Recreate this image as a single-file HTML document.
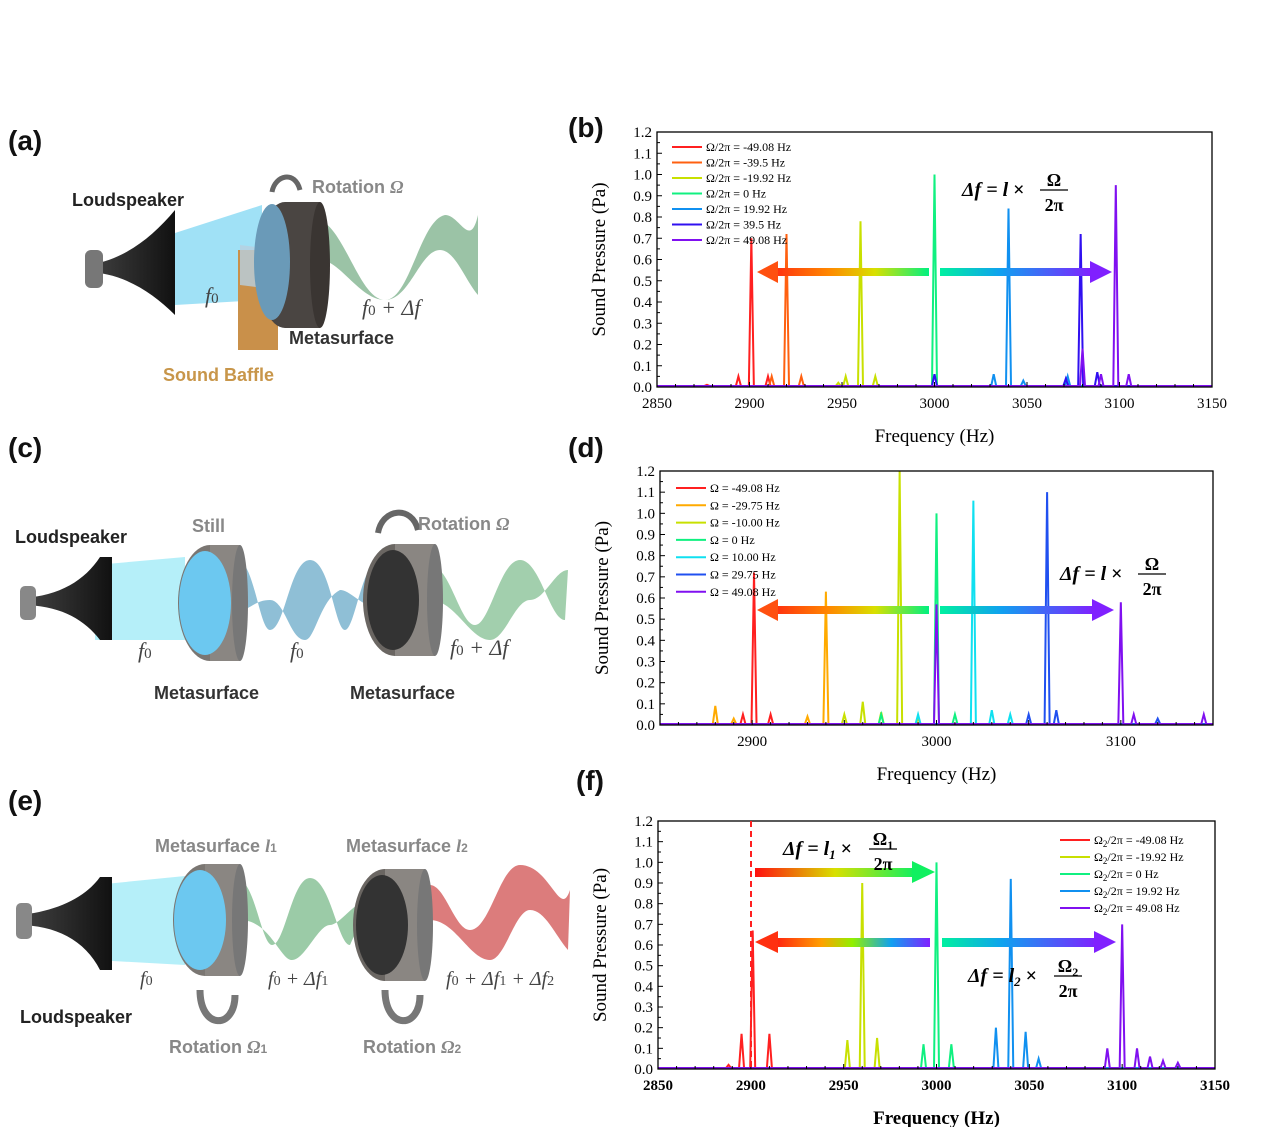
<!DOCTYPE html>
<html><head><meta charset="utf-8">
<style>
body{margin:0;background:#fff;}
svg{display:block;font-family:"Liberation Serif",serif;}
.lab{font-family:"Liberation Sans",sans-serif;font-weight:bold;}
</style></head>
<body>
<svg id="s" width="1270" height="1127" viewBox="0 0 1270 1127" xmlns="http://www.w3.org/2000/svg">
<defs>
<linearGradient id="gl" x1="0" x2="1"><stop offset="0" stop-color="#ff3010"/><stop offset="0.35" stop-color="#ff8800"/><stop offset="0.65" stop-color="#d8e000"/><stop offset="1" stop-color="#00f080"/></linearGradient>
<linearGradient id="gr" x1="0" x2="1"><stop offset="0" stop-color="#00f0a0"/><stop offset="0.4" stop-color="#10a0f0"/><stop offset="1" stop-color="#8020ff"/></linearGradient>
<linearGradient id="gf" x1="0" x2="1"><stop offset="0" stop-color="#ff1010"/><stop offset="0.5" stop-color="#d8e000"/><stop offset="1" stop-color="#10f060"/></linearGradient>
<linearGradient id="gf2" x1="0" x2="1"><stop offset="0" stop-color="#ff2010"/><stop offset="0.3" stop-color="#ffa000"/><stop offset="0.5" stop-color="#90f000"/><stop offset="0.75" stop-color="#10a0f0"/><stop offset="1" stop-color="#8020ff"/></linearGradient>
<linearGradient id="horn" x1="0" x2="1"><stop offset="0" stop-color="#444"/><stop offset="1" stop-color="#111"/></linearGradient>
</defs>
<g id="g"></g>
<g class="lab" font-size="28" fill="#111">
<text x="8" y="150">(a)</text><text x="568" y="137">(b)</text>
<text x="8" y="457">(c)</text><text x="568" y="457">(d)</text>
<text x="8" y="810">(e)</text><text x="576" y="790">(f)</text>
</g>
<g>
<polygon points="175,233 262,205 262,300 175,305" fill="#8fdcf5" opacity="0.85"/>
<path d="M320,220 C345,230 360,300 385,300 C410,300 420,220 445,215 C460,215 470,250 478,215 L478,295 C465,280 455,250 440,250 C420,250 410,300 385,300 C360,300 340,260 320,260 Z" fill="#7aaf88" opacity="0.75"/>
<rect x="238" y="250" width="40" height="100" fill="#c9904a"/>
<polygon points="240,245 280,250 280,290 240,285" fill="#b8d0e0" opacity="0.8"/>
<ellipse cx="285" cy="265" rx="28" ry="63" fill="#4a4542"/>
<rect x="285" y="202" width="35" height="126" fill="#4a4542"/>
<ellipse cx="320" cy="265" rx="10" ry="63" fill="#3a3532"/>
<ellipse cx="272" cy="262" rx="18" ry="58" fill="#6a9ab8"/>
<path d="M85,265 C120,262 150,240 175,210 L175,315 C150,290 120,272 85,272 Z" fill="url(#horn)"/>
<rect x="85" y="250" width="18" height="38" rx="6" fill="#777"/>
<path d="M272,192 C275,175 295,170 300,190" stroke="#666" stroke-width="5" fill="none"/>
</g>
<g class="lab" font-size="18">
<text x="72" y="206" fill="#222">Loudspeaker</text>
<text x="312" y="193" fill="#888">Rotation <tspan font-style="italic" font-family="Liberation Serif">Ω</tspan></text>
<text x="289" y="344" fill="#333">Metasurface</text>
<text x="163" y="381" fill="#c8964a">Sound Baffle</text>
</g>
<g font-style="italic" font-size="22" fill="#444"><text x="205" y="303">f<tspan font-size="15" font-style="normal">0</tspan></text><text x="362" y="315">f<tspan font-size="15" font-style="normal">0</tspan> + Δf</text></g>

<g>
<polygon points="95,565 185,557 185,640 95,640" fill="#a8ecf8" opacity="0.85"/>
<path d="M240,560 C255,570 260,630 270,630 C285,630 290,560 310,560 C330,560 335,630 345,630 C355,630 362,560 380,560 L380,610 C360,605 350,590 340,590 C320,600 315,640 305,640 C290,640 285,600 270,600 C255,600 250,610 240,610 Z" fill="#6aaac8" opacity="0.75"/>
<path d="M430,565 C450,565 460,625 475,625 C490,625 500,560 520,560 C540,560 550,620 565,620 L568,570 C555,570 545,600 530,600 C515,600 505,640 490,640 C470,640 455,600 430,600 Z" fill="#7aba8a" opacity="0.7"/>
<ellipse cx="210" cy="603" rx="32" ry="58" fill="#7a7672"/><rect x="210" y="545" width="30" height="116" fill="#8a8682"/><ellipse cx="240" cy="603" rx="8" ry="58" fill="#777"/>
<ellipse cx="205" cy="603" rx="26" ry="52" fill="#6cc8f0"/>
<ellipse cx="395" cy="600" rx="32" ry="56" fill="#6a6662"/><rect x="395" y="544" width="40" height="112" fill="#8a8682"/><ellipse cx="435" cy="600" rx="8" ry="56" fill="#777"/>
<ellipse cx="393" cy="600" rx="26" ry="50" fill="#333"/>
<path d="M22,598 C60,596 85,580 100,557 L112,557 L112,640 L100,640 C85,620 60,605 22,605 Z" fill="url(#horn)"/>
<rect x="20" y="586" width="16" height="34" rx="5" fill="#888"/>
<path d="M378,533 C382,508 412,505 418,530" stroke="#666" stroke-width="6" fill="none"/>
</g>
<g class="lab" font-size="18">
<text x="15" y="543" fill="#222">Loudspeaker</text>
<text x="192" y="532" fill="#888">Still</text>
<text x="418" y="530" fill="#888">Rotation <tspan font-style="italic" font-family="Liberation Serif">Ω</tspan></text>
<text x="154" y="699" fill="#333">Metasurface</text>
<text x="350" y="699" fill="#333">Metasurface</text>
</g>
<g font-style="italic" font-size="22" fill="#444"><text x="138" y="658">f<tspan font-size="15" font-style="normal">0</tspan></text><text x="290" y="658">f<tspan font-size="15" font-style="normal">0</tspan></text><text x="450" y="655">f<tspan font-size="15" font-style="normal">0</tspan> + Δf</text></g>

<g>
<polygon points="95,885 185,876 185,965 95,960" fill="#a8ecf8" opacity="0.85"/>
<path d="M240,880 C255,885 262,945 272,945 C285,945 292,878 310,878 C330,878 338,945 350,945 L370,900 C355,900 340,925 330,925 C318,925 305,960 292,960 C280,960 270,920 240,920 Z" fill="#7aba8a" opacity="0.75"/>
<path d="M430,885 C445,885 455,930 470,930 C490,930 500,865 520,865 C550,865 560,920 570,890 L568,950 C555,935 545,910 530,910 C515,910 505,960 490,960 C470,960 455,920 430,920 Z" fill="#d05050" opacity="0.75"/>
<ellipse cx="205" cy="920" rx="32" ry="56" fill="#7a7672"/><rect x="205" y="864" width="35" height="112" fill="#8a8682"/><ellipse cx="240" cy="920" rx="8" ry="56" fill="#777"/>
<ellipse cx="200" cy="920" rx="26" ry="50" fill="#6cc8f0"/>
<ellipse cx="385" cy="925" rx="32" ry="56" fill="#6a6662"/><rect x="385" y="869" width="40" height="112" fill="#8a8682"/><ellipse cx="425" cy="925" rx="8" ry="56" fill="#777"/>
<ellipse cx="382" cy="925" rx="26" ry="50" fill="#333"/>
<path d="M18,915 C55,912 85,898 100,877 L112,877 L112,970 L100,970 C85,940 55,925 18,925 Z" fill="url(#horn)"/>
<rect x="16" y="903" width="16" height="36" rx="5" fill="#888"/>
<path d="M200,990 C200,1030 235,1030 235,995" stroke="#777" stroke-width="7" fill="none"/>
<path d="M385,990 C385,1030 420,1030 420,995" stroke="#777" stroke-width="7" fill="none"/>
</g>
<g class="lab" font-size="18">
<text x="20" y="1023" fill="#222">Loudspeaker</text>
<text x="155" y="852" fill="#888">Metasurface <tspan font-style="italic" font-family="Liberation Serif">l</tspan><tspan font-size="12">1</tspan></text>
<text x="346" y="852" fill="#888">Metasurface <tspan font-style="italic" font-family="Liberation Serif">l</tspan><tspan font-size="12">2</tspan></text>
<text x="169" y="1053" fill="#888">Rotation <tspan font-style="italic" font-family="Liberation Serif">Ω</tspan><tspan font-size="12">1</tspan></text>
<text x="363" y="1053" fill="#888">Rotation <tspan font-style="italic" font-family="Liberation Serif">Ω</tspan><tspan font-size="12">2</tspan></text>
</g>
<g font-style="italic" font-size="20" fill="#444"><text x="140" y="985">f<tspan font-size="14" font-style="normal">0</tspan></text><text x="268" y="985">f<tspan font-size="14" font-style="normal">0</tspan> + Δf<tspan font-size="14" font-style="normal">1</tspan></text><text x="446" y="985">f<tspan font-size="14" font-style="normal">0</tspan> + Δf<tspan font-size="14" font-style="normal">1</tspan> + Δf<tspan font-size="14" font-style="normal">2</tspan></text></g>
</svg>
<script>
const g=document.getElementById('g');let h='';
function chart(o){
 const {x0,x1,yb,yt,f0,f1,ymax}=o;
 const X=f=>x0+(f-f0)/(f1-f0)*(x1-x0), Y=v=>yb-v/ymax*(yb-yt);
 o.series.forEach(s=>{
  let d=`M${x0},${Y(0.005)}`;
  s.p.sort((a,b)=>a[0]-b[0]).forEach(([f,v])=>{const x=X(f);d+=` L${x-2.5},${Y(0.005)} L${x},${Y(v)} L${x+2.5},${Y(0.005)}`;});
  d+=` L${x1},${Y(0.005)}`;
  h+=`<path d="${d}" fill="none" stroke="${s.c}" stroke-width="2"/>`;
 });
 h+=`<rect x="${x0}" y="${yt}" width="${x1-x0}" height="${yb-yt}" fill="none" stroke="#000" stroke-width="1.3"/>`;
 const fw=o.bold?'bold':'normal';
 for(let i=0;i<=24;i++){const v=i*0.05,y=Y(v),L=i%2?3:5;h+=`<line x1="${x0}" x2="${x0+L}" y1="${y}" y2="${y}" stroke="#000"/>`;
  if(i%2==0)h+=`<text x="${x0-5}" y="${y+5}" font-size="15" text-anchor="end">${(v).toFixed(1)}</text>`;}
 for(let f=f0;f<=f1;f+=10){const x=X(f),L=f%50==0?5:3;h+=`<line x1="${x}" x2="${x}" y1="${yb}" y2="${yb-L}" stroke="#000"/>`;
  if(o.xl.includes(f))h+=`<text x="${x}" y="${yb+21}" font-size="15" font-weight="${fw}" text-anchor="middle">${f}</text>`;}
 h+=`<text x="${(x0+x1)/2}" y="${yb+55}" font-size="19" font-weight="${fw}" text-anchor="middle">Frequency (Hz)</text>`;
 h+=`<text transform="translate(${x0-52},${(yb+yt)/2}) rotate(-90)" font-size="19" text-anchor="middle">Sound Pressure (Pa)</text>`;
 o.leg.forEach((l,i)=>{const y=o.ly+i*o.ld;h+=`<line x1="${o.lx}" x2="${o.lx+30}" y1="${y}" y2="${y}" stroke="${l[0]}" stroke-width="2"/><text x="${o.lx+34}" y="${y+4}" font-size="12">${l[1]}</text>`;});
}
const R='#ff2020',O='#ff6010',YG='#c8e000',G='#10f080',B='#1090f0',I='#3010f0',V='#8010f0',OR='#ffaa00',C='#10e0f0',BL='#2050f0';
chart({x0:657,x1:1212,yb:387,yt:132,f0:2850,f1:3150,ymax:1.2,xl:[2850,2900,2950,3000,3050,3100,3150],lx:672,ly:147,ld:15.5,
series:[{c:R,p:[[2901,0.7],[2894,0.05],[2910,0.05],[2877,0.01]]},{c:O,p:[[2920,0.72],[2912,0.05],[2928,0.05]]},{c:YG,p:[[2960,0.78],[2952,0.05],[2968,0.05],[2948,0.02]]},{c:G,p:[[3000,1.0]]},{c:B,p:[[3040,0.84],[3032,0.06],[3048,0.03],[3072,0.05]]},{c:I,p:[[3079,0.72],[3088,0.07],[3000,0.06],[3071,0.04]]},{c:V,p:[[3098,0.95],[3105,0.06],[3090,0.06],[3080,0.18]]}],
leg:[[R,'Ω/2π = -49.08 Hz'],[O,'Ω/2π = -39.5 Hz'],[YG,'Ω/2π = -19.92 Hz'],[G,'Ω/2π = 0 Hz'],[B,'Ω/2π = 19.92 Hz'],[I,'Ω/2π = 39.5 Hz'],[V,'Ω/2π = 49.08 Hz']]});
h+=`<rect x="775" y="268" width="154" height="8" fill="url(#gl)"/><polygon points="757,272 778,261 778,283" fill="#ff5010"/>`;
h+=`<rect x="940" y="268" width="152" height="8" fill="url(#gr)"/><polygon points="1112,272 1090,261 1090,283" fill="#8020ff"/>`;
function frm(x,y,sub){h+=`<text x="${x}" y="${y}" font-size="20" font-weight="bold" font-style="italic">Δf = l${sub?'<tspan font-size="13" dy="4">'+sub+'</tspan><tspan dy="-4"> </tspan>':' '}<tspan font-style="normal">×</tspan></text><text x="${x+92+(sub?8:0)}" y="${y-10}" font-size="18" font-weight="bold" text-anchor="middle">Ω${sub?'<tspan font-size="12" dy="4">'+sub+'</tspan>':''}</text><line x1="${x+78+(sub?8:0)}" x2="${x+106+(sub?8:0)}" y1="${y-6}" y2="${y-6}" stroke="#000" stroke-width="1.3"/><text x="${x+92+(sub?8:0)}" y="${y+15}" font-size="18" font-weight="bold" text-anchor="middle">2π</text>`;}
frm(962,196,'');
chart({x0:660,x1:1213,yb:725,yt:471,f0:2850,f1:3150,ymax:1.2,xl:[2900,3000,3100],lx:676,ly:488,ld:17.3,
series:[{c:R,p:[[2901,0.72],[2895,0.05],[2910,0.05]]},{c:OR,p:[[2940,0.63],[2880,0.09],[2890,0.03],[2930,0.04]]},{c:YG,p:[[2980,1.2],[2960,0.11],[2950,0.05],[2970,0.06],[2990,0.03]]},{c:G,p:[[3000,1.0],[2970,0.05],[3010,0.05]]},{c:C,p:[[3020,1.06],[3030,0.07],[3040,0.05],[2990,0.05]]},{c:BL,p:[[3060,1.1],[3050,0.05],[3065,0.07],[3120,0.03]]},{c:V,p:[[3100,0.58],[3000,0.57],[3107,0.05],[3145,0.05]]}],
leg:[[R,'Ω = -49.08 Hz'],[OR,'Ω = -29.75 Hz'],[YG,'Ω = -10.00 Hz'],[G,'Ω = 0 Hz'],[C,'Ω = 10.00 Hz'],[BL,'Ω = 29.75 Hz'],[V,'Ω = 49.08 Hz']]});
h+=`<rect x="775" y="606" width="154" height="8" fill="url(#gl)"/><polygon points="757,610 778,599 778,621" fill="#ff5010"/>`;
h+=`<rect x="940" y="606" width="154" height="8" fill="url(#gr)"/><polygon points="1114,610 1092,599 1092,621" fill="#8020ff"/>`;
frm(1060,580,'');
chart({x0:658,x1:1215,yb:1069,yt:821,f0:2850,f1:3150,ymax:1.2,bold:true,xl:[2850,2900,2950,3000,3050,3100,3150],lx:1060,ly:840,ld:17,
series:[{c:R,p:[[2901,0.67],[2895,0.17],[2910,0.17],[2888,0.02]]},{c:YG,p:[[2960,0.9],[2952,0.14],[2968,0.15]]},{c:G,p:[[3000,1.0],[2993,0.12],[3008,0.12]]},{c:B,p:[[3040,0.92],[3032,0.2],[3048,0.18],[3055,0.05]]},{c:V,p:[[3100,0.7],[3092,0.1],[3108,0.1],[3115,0.06],[3122,0.04],[3130,0.03]]}],
leg:[[R,'Ω<tspan font-size="9" dy="3">2</tspan><tspan dy="-3">/2π = -49.08 Hz</tspan>'],[YG,'Ω<tspan font-size="9" dy="3">2</tspan><tspan dy="-3">/2π = -19.92 Hz</tspan>'],[G,'Ω<tspan font-size="9" dy="3">2</tspan><tspan dy="-3">/2π = 0 Hz</tspan>'],[B,'Ω<tspan font-size="9" dy="3">2</tspan><tspan dy="-3">/2π = 19.92 Hz</tspan>'],[V,'Ω<tspan font-size="9" dy="3">2</tspan><tspan dy="-3">/2π = 49.08 Hz</tspan>']]});
h+=`<line x1="751" x2="751" y1="821" y2="1069" stroke="#ff2020" stroke-width="2" stroke-dasharray="6,4"/>`;
h+=`<rect x="755" y="868" width="160" height="9" fill="url(#gf)"/><polygon points="935,872 912,861 912,883" fill="#10f060"/>`;
h+=`<rect x="775" y="938" width="155" height="9" fill="url(#gf2)"/><rect x="942" y="938" width="155" height="9" fill="url(#gr)"/><polygon points="755,942 778,931 778,953" fill="#ff3010"/><polygon points="1116,942 1094,931 1094,953" fill="#8020ff"/>`;
frm(783,855,'1');frm(968,982,'2');
g.innerHTML=h;
</script>
</body></html>
